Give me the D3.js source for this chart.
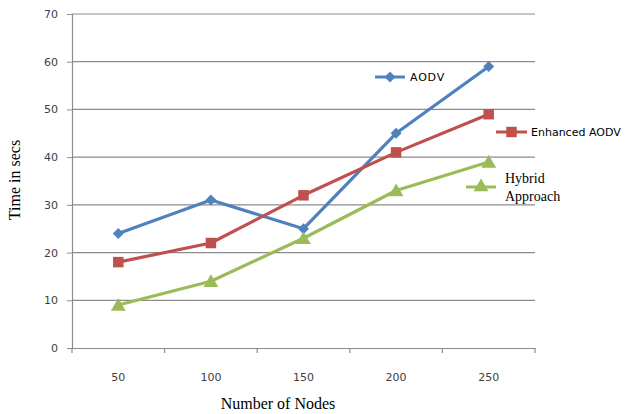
<!DOCTYPE html>
<html><head><meta charset="utf-8">
<script src="https://cdn.jsdelivr.net/npm/d3@7"></script>
<style>body{margin:0;background:#fff}svg{display:block}</style>
</head><body>
<svg id="c" width="635" height="414"></svg>
<script>
const categories = ["50","100","150","200","250"];
const aodv = [24,31,25,45,59];
const enhanced = [18,22,32,41,49];
const hybrid = [9,14,23,33,39];
const yTicks = [0,10,20,30,40,50,60,70];

const svg = d3.select("#c");
const L=72,R=535,T=14,B=348;
const x = d3.scaleBand().domain(categories).range([L,R]);
const y = d3.scaleLinear().domain([0,70]).range([B,T]);
const grid="#8c8c8c";

svg.append("g").selectAll("line").data(yTicks.filter(d=>d>0)).join("line")
 .attr("x1",L).attr("x2",R).attr("y1",d=>y(d)).attr("y2",d=>y(d))
 .attr("stroke",grid).attr("stroke-width",1.2);

const ya = svg.append("g").attr("transform",`translate(${L},0)`)
 .call(d3.axisLeft(y).tickValues(yTicks).tickSize(5).tickPadding(9));
ya.select(".domain").attr("stroke",grid).attr("stroke-width",1.2);
ya.selectAll(".tick line").attr("stroke",grid);
ya.selectAll("text").attr("font-family","DejaVu Sans").attr("font-size",11).attr("fill","#404040");

const xa = svg.append("g").attr("transform",`translate(0,${B})`)
 .call(d3.axisBottom(x).tickSize(0).tickPadding(25));
xa.select(".domain").attr("stroke",grid).attr("stroke-width",1.2);
xa.selectAll("text").attr("font-family","DejaVu Sans").attr("font-size",11).attr("fill","#404040");
const bounds = categories.map(c=>x(c)).concat([R]);
xa.selectAll(".xt").data(bounds).join("line").attr("class","xt")
 .attr("x1",d=>d).attr("x2",d=>d).attr("y1",0).attr("y2",5).attr("stroke",grid).attr("stroke-width",1.2);

svg.append("text").attr("x",278).attr("y",409).attr("text-anchor","middle")
 .attr("font-family","Liberation Serif").attr("font-size",16).attr("fill","#000").text("Number of Nodes");
svg.append("text").attr("transform","translate(20,180) rotate(-90)").attr("text-anchor","middle")
 .attr("font-family","Liberation Serif").attr("font-size",16).attr("fill","#000").text("Time in secs");

const cx = c=>x(c)+x.bandwidth()/2;
const series = [
 {name:"AODV",vals:aodv,color:"#4F81BD",sym:d3.symbolSquare,size:60,rot:45,dy:0},
 {name:"Enhanced AODV",vals:enhanced,color:"#C0504D",sym:d3.symbolSquare,size:110,rot:0,dy:0},
 {name:"Hybrid Approach",vals:hybrid,color:"#9BBB59",sym:d3.symbolTriangle,size:95,rot:0,dy:1.5}
];
const line = d3.line().x((d,i)=>cx(categories[i])).y(d=>y(d));
series.forEach(s=>{
 svg.append("path").datum(s.vals).attr("d",line).attr("fill","none")
  .attr("stroke",s.color).attr("stroke-width",3.2).attr("stroke-linejoin","round");
 svg.append("g").selectAll("path").data(s.vals).join("path")
  .attr("transform",(d,i)=>`translate(${cx(categories[i])},${y(d)+s.dy}) rotate(${s.rot})`)
  .attr("d",d3.symbol().type(s.sym).size(s.size)).attr("fill",s.color);
});

// legend
const leg = [
 {s:series[0],x1:375,x2:405,y:77},
 {s:series[1],x1:496,x2:527,y:132},
 {s:series[2],x1:466,x2:496,y:187}
];
leg.forEach(l=>{
 svg.append("line").attr("x1",l.x1).attr("x2",l.x2).attr("y1",l.y).attr("y2",l.y)
  .attr("stroke",l.s.color).attr("stroke-width",3);
 svg.append("path").attr("transform",`translate(${(l.x1+l.x2)/2},${l.y}) rotate(${l.s.rot})`)
  .attr("d",d3.symbol().type(l.s.sym).size(l.s.size)).attr("fill",l.s.color);
});
svg.append("text").attr("x",410).attr("y",81).attr("font-family","DejaVu Sans").attr("font-size",11)
 .attr("letter-spacing",0.8).attr("fill","#000").text("AODV");
svg.append("text").attr("x",531).attr("y",136).attr("font-family","DejaVu Sans").attr("font-size",11)
 .attr("letter-spacing",0).attr("fill","#000").text("Enhanced AODV");
svg.append("text").attr("x",505).attr("y",183).attr("font-family","Liberation Serif").attr("font-size",14)
 .attr("fill","#000").text("Hybrid");
svg.append("text").attr("x",505).attr("y",201).attr("font-family","Liberation Serif").attr("font-size",14)
 .attr("fill","#000").text("Approach");
</script>
</body></html>
